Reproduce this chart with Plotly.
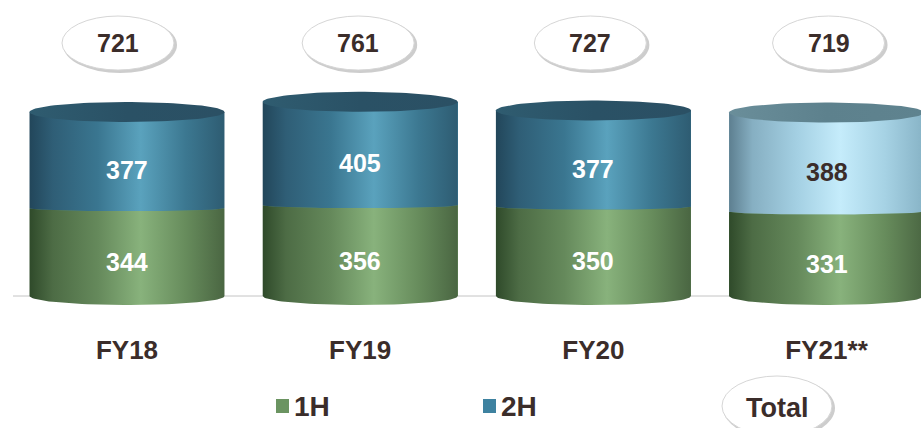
import numpy as np
import plotly.graph_objects as go

# ---------------- data ----------------
categories = ["FY18", "FY19", "FY20", "FY21**"]
h1_values = [344, 356, 350, 331]
h2_values = [377, 405, 377, 388]
totals = [721, 761, 727, 719]
series_names = ["1H", "2H"]
total_label = "Total"
forecast_flags = [False, False, False, True]

# ---------------- style / layout constants ----------------
W, H = 921, 428
MB = 108
PLOT_H = H - MB
PX_PER_UNIT = 0.2552
X_RANGE = [-0.5446, 3.405]
Y_RANGE = [-94, 1160]
BAR_W = 0.836
CAP_R = 10 / PX_PER_UNIT      # top ellipse half-height (data units)
BOT_R = 9 / PX_PER_UNIT       # bottom arc depth
BND_R = 3 / PX_PER_UNIT       # boundary arc depth
TOT_Y = (296 - 43) / PX_PER_UNIT
TOT_SHIFT = [-9, -2, -3, 2]   # small pixel offsets of the total ovals
FONT = "Liberation Sans, Arial, sans-serif"
TXT = "#3b2d2a"

GREEN_MID = "#6b9461"
BLUE_MID = "#3e82a0"
LIGHT_MID = "#a6d2e4"

GREEN_CS = [[0, "#2f4a2a"], [0.12, "#4d6c45"], [0.35, "#65895b"], [0.57, "#88b27c"],
            [0.8, "#678c5c"], [1, "#4a6642"]]
BLUE_CS = [[0, "#22465a"], [0.12, "#2f5e76"], [0.35, "#3a7690"], [0.57, "#5aa2bd"],
           [0.8, "#3c7891"], [1, "#2e5c72"]]
LIGHT_CS = [[0, "#5d7f90"], [0.12, "#86afc2"], [0.35, "#a4d0e3"], [0.57, "#c5ecfb"],
            [0.8, "#a6d2e4"], [1, "#87b3c6"]]
CAP_CS = [[0, "#2f5c70"], [0.5, "#2a5165"], [1, "#2b5064"]]
CAP_LIGHT_CS = [[0, "#6a8e9a"], [0.5, "#5d818d"], [1, "#5f838f"]]


def px_x(p):
    return p / W


def px_y(p):
    return 1 - p / PLOT_H


xs = np.arange(len(categories))
fig = go.Figure()

# base stacked bars (covered by cylinder shading)
fig.add_trace(go.Bar(x=xs, y=h1_values, name=series_names[0], width=BAR_W,
                     marker=dict(color=GREEN_MID, line=dict(width=0)), hoverinfo="skip"))
fig.add_trace(go.Bar(x=xs, y=h2_values, name=series_names[1], width=BAR_W,
                     marker=dict(color=[LIGHT_MID if f else BLUE_MID for f in forecast_flags],
                                 line=dict(width=0)), hoverinfo="skip"))

half = BAR_W / 2
th = np.linspace(0, np.pi, 50)
th2 = np.linspace(0, 2 * np.pi, 100)


def poly(x, y, cs):
    fig.add_trace(go.Scatter(x=x, y=y, mode="lines", fill="toself",
                             line=dict(width=0, color="rgba(0,0,0,0)"),
                             fillgradient=dict(type="horizontal", colorscale=cs),
                             hoverinfo="skip", showlegend=False))


for i, xc in enumerate(xs):
    h1 = h1_values[i]
    tot = h1 + h2_values[i]
    x_top = xc - half * np.cos(th)
    y_top = h1 - BND_R * np.sin(th)
    x_bot = xc + half * np.cos(th)
    y_bot = -BOT_R * np.sin(th)
    poly(np.concatenate([x_top, x_bot]), np.concatenate([y_top, y_bot]), GREEN_CS)
    x2 = np.concatenate([x_top, [xc + half, xc - half]])
    y2 = np.concatenate([y_top, [tot, tot]])
    poly(x2, y2, LIGHT_CS if forecast_flags[i] else BLUE_CS)
    poly(xc + half * np.cos(th2), tot + CAP_R * np.sin(th2),
         CAP_LIGHT_CS if forecast_flags[i] else CAP_CS)

annotations = []
shapes = []


def oval(xref, yref, xa, ya, rx, ry, dx=0):
    shapes.append(dict(type="circle", xref=xref, yref=yref, xsizemode="pixel", ysizemode="pixel",
                       xanchor=xa, yanchor=ya, x0=dx - rx + 1, x1=dx + rx + 3, y0=-ry - 3, y1=ry - 1,
                       fillcolor="#cdcdcd", line=dict(width=0)))
    shapes.append(dict(type="circle", xref=xref, yref=yref, xsizemode="pixel", ysizemode="pixel",
                       xanchor=xa, yanchor=ya, x0=dx - rx, x1=dx + rx, y0=-ry, y1=ry,
                       fillcolor="white", line=dict(width=1, color="#d6d6d6")))


for i, xc in enumerate(xs):
    h1, h2 = h1_values[i], h2_values[i]
    annotations.append(dict(x=xc, y=h1 / 2, text=str(h1), showarrow=False, yshift=-10,
                            xanchor="center", yanchor="middle",
                            font=dict(size=25, color="white", family=FONT, weight="bold")))
    annotations.append(dict(x=xc, y=h1 + h2 / 2, text=str(h2), showarrow=False, yshift=-10,
                            xanchor="center", yanchor="middle",
                            font=dict(size=25, color=TXT if forecast_flags[i] else "white",
                                      family=FONT, weight="bold")))
    oval("x", "y", xc, TOT_Y, 56, 27, TOT_SHIFT[i])
    annotations.append(dict(x=xc, y=TOT_Y, text=str(totals[i]), showarrow=False,
                            xanchor="center", yanchor="middle", xshift=TOT_SHIFT[i],
                            font=dict(size=25, color=TXT, family=FONT, weight="bold")))

# baseline
shapes.append(dict(type="line", xref="paper", yref="y", x0=px_x(13), x1=1, y0=0, y1=0,
                   line=dict(color="#c4c4c4", width=1), layer="below"))

# manual legend
legend_items = [(series_names[0], GREEN_MID, 276), (series_names[1], BLUE_MID, 483)]
for name, col, sx in legend_items:
    shapes.append(dict(type="rect", xref="paper", yref="paper", xsizemode="pixel", ysizemode="pixel",
                       xanchor=px_x(sx), yanchor=px_y(406), x0=0, x1=13, y0=-7, y1=7,
                       fillcolor=col, line=dict(width=0)))
    annotations.append(dict(x=px_x(sx + 16), y=px_y(406), xref="paper", yref="paper", text=name,
                            xanchor="left", yanchor="middle", showarrow=False,
                            font=dict(size=28, color=TXT, family=FONT, weight="bold")))

oval("paper", "paper", px_x(777), px_y(406), 55, 30)
annotations.append(dict(x=px_x(777), y=px_y(408), xref="paper", yref="paper", text=total_label,
                        xanchor="center", yanchor="middle",
                        showarrow=False, font=dict(size=27, color=TXT, family=FONT, weight="bold")))

fig.update_layout(
    width=W, height=H,
    margin=dict(l=0, r=0, t=0, b=MB),
    paper_bgcolor="white", plot_bgcolor="white",
    barmode="stack",
    xaxis=dict(range=X_RANGE, tickvals=list(xs), ticktext=categories, showgrid=False,
               zeroline=False, showline=False, ticks="", ticklabelstandoff=12,
               tickfont=dict(size=26, color=TXT, family=FONT, weight="bold")),
    yaxis=dict(range=Y_RANGE, visible=False),
    showlegend=False,
    shapes=shapes, annotations=annotations,
)

fig.write_html("out.html", config={"displayModeBar": False},
               post_script="document.body.style.margin='0';")
